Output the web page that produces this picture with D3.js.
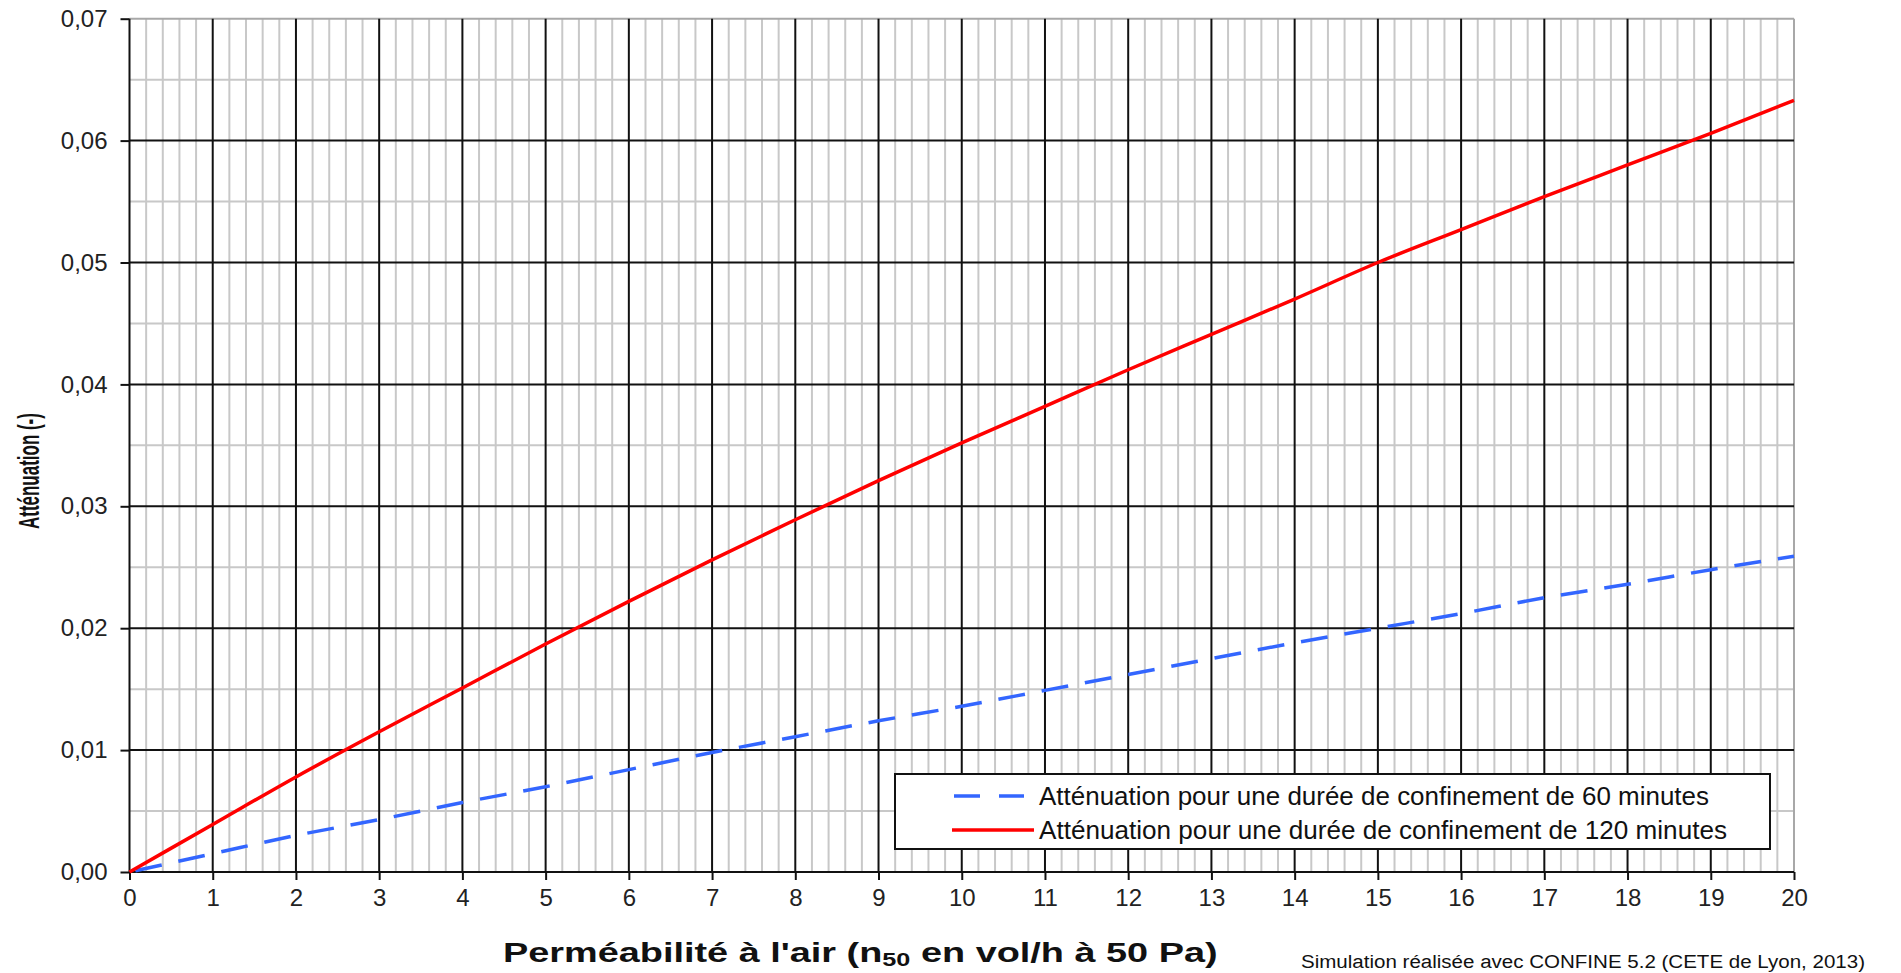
<!DOCTYPE html>
<html><head><meta charset="utf-8">
<script src="https://cdn.jsdelivr.net/npm/d3@7"></script>
<style>
html,body{margin:0;padding:0;background:#fff;}
svg{display:block;}
text{font-family:"Liberation Sans",Arial,sans-serif;}
</style></head>
<body>
<svg id="chart" width="1901" height="973"></svg>
<script>
// ---- data ----
const xValues = [0,1,2,3,4,5,6,7,8,9,10,11,12,13,14,15,16,17,18,19,20];
const att60 = [0,0.0015,0.0030,0.0043,0.0057,0.0070,0.0084,0.0098,0.0111,0.0124,0.0136,0.0149,0.0162,0.0175,0.0188,0.0200,0.0212,0.0225,0.0236,0.0248,0.0259];
const att120 = [0,0.0039,0.0078,0.0115,0.0151,0.0187,0.0222,0.0256,0.0289,0.0321,0.0352,0.0382,0.0412,0.0441,0.0470,0.0500,0.0527,0.0554,0.0580,0.0606,0.0633];
const xTicks = d3.range(0,21,1);
const yTicks = [0,0.01,0.02,0.03,0.04,0.05,0.06,0.07];
const seriesNames = ["Atténuation pour une durée de confinement de 60 minutes","Atténuation pour une durée de confinement de 120 minutes"];
const xTitle = "Perméabilité à l'air (n";
const xTitleSub = "50";
const xTitleEnd = " en vol/h à 50 Pa)";
const yTitle = "Atténuation (-)";
const footer = "Simulation réalisée avec CONFINE 5.2 (CETE de Lyon, 2013)";

const svg = d3.select("#chart");
const L = 129.5, R = 1794, T = 18.7, B = 872;
const x = d3.scaleLinear().domain([0,20]).range([L,R]);
const y = d3.scaleLinear().domain([0,0.07]).range([B,T]);
const loc = d3.formatLocale({decimal:",", thousands:" ", grouping:[3], currency:["","€"]});
const fmt = loc.format(".2f");

// minor grid
const gMinor = svg.append("g");
gMinor.selectAll("line.vx").data(d3.range(0,101).map(i=>i/5).filter(v=>Math.abs(v-Math.round(v))>1e-9))
  .join("line").attr("x1",d=>x(d)).attr("x2",d=>x(d)).attr("y1",T).attr("y2",B)
  .attr("stroke","#c8c8c8").attr("stroke-width",2);
gMinor.selectAll("line.hy").data(d3.range(0,15).map(i=>i*0.005).filter((v,i)=>i%2===1))
  .join("line").attr("class","hy").attr("x1",L).attr("x2",R).attr("y1",d=>y(d)).attr("y2",d=>y(d))
  .attr("stroke","#c8c8c8").attr("stroke-width",2);
// border top/right gray
svg.append("line").attr("x1",L).attr("x2",R).attr("y1",T).attr("y2",T).attr("stroke","#a8a8a8").attr("stroke-width",2);
svg.append("line").attr("x1",R).attr("x2",R).attr("y1",T).attr("y2",B).attr("stroke","#a8a8a8").attr("stroke-width",2);

// major grid
const gMajor = svg.append("g");
gMajor.selectAll("line.mx").data(xTicks.filter(d=>d>0 && d<20)).join("line").attr("class","mx")
  .attr("x1",d=>x(d)).attr("x2",d=>x(d)).attr("y1",T).attr("y2",B)
  .attr("stroke","#111").attr("stroke-width",2);
gMajor.selectAll("line.my").data(yTicks.filter(d=>d>0 && d<0.07)).join("line").attr("class","my")
  .attr("x1",L).attr("x2",R).attr("y1",d=>y(d)).attr("y2",d=>y(d))
  .attr("stroke","#111").attr("stroke-width",2);

// axes
const xAxis = d3.axisBottom(x).tickValues(xTicks).tickSize(8).tickPadding(9).tickFormat(d3.format("d"));
const yAxis = d3.axisLeft(y).tickValues(yTicks).tickSize(9).tickPadding(13).tickFormat(fmt);
const gx = svg.append("g").attr("transform",`translate(0,${B})`).call(xAxis);
const gy = svg.append("g").attr("transform",`translate(${L},0)`).call(yAxis);
[gx,gy].forEach(g=>{
  g.select(".domain").attr("stroke","#111").attr("stroke-width",2);
  g.selectAll(".tick line").attr("stroke","#111").attr("stroke-width",2);
  g.selectAll(".tick text").attr("fill","#222").style("font-size","24px").style("font-family","'Liberation Sans',Arial,sans-serif");
});
gx.select(".domain").attr("d",`M${L},0H${R}`);
gy.select(".domain").attr("d",`M0,${B}V${T}`);

// lines
const line = d3.line().x((d,i)=>x(xValues[i])).y(d=>y(d)).curve(d3.curveMonotoneX);
svg.append("path").datum(att60).attr("d",line).attr("fill","none")
  .attr("stroke","#3366ff").attr("stroke-width",3.5).attr("stroke-dasharray","27,17").attr("stroke-dashoffset",-6);
svg.append("path").datum(att120).attr("d",line).attr("fill","none")
  .attr("stroke","#ff0000").attr("stroke-width",3.5);

// legend
const lg = svg.append("g");
lg.append("rect").attr("x",895).attr("y",774).attr("width",875).attr("height",75)
  .attr("fill","#fff").attr("stroke","#111").attr("stroke-width",2);
lg.append("line").attr("x1",954).attr("x2",1024).attr("y1",796).attr("y2",796)
  .attr("stroke","#3366ff").attr("stroke-width",3.5).attr("stroke-dasharray","26,19");
lg.append("line").attr("x1",952).attr("x2",1034).attr("y1",830).attr("y2",830)
  .attr("stroke","#ff0000").attr("stroke-width",3.5);
const legW = [670, 688];
seriesNames.forEach((s,i)=>{
  const t = lg.append("text").attr("x",1039).attr("y",i===0?805:839)
    .attr("fill","#111").style("font-size","25px").text(s);
  t.attr("textLength",legW[i]).attr("lengthAdjust","spacingAndGlyphs");
});

// x title (bold, condensed)
const xt = svg.append("text").attr("y",962).attr("fill","#111")
  .style("font-size","27px").style("font-weight","bold");
xt.append("tspan").text(xTitle);
xt.append("tspan").attr("dy",4).style("font-size","18px").text(xTitleSub);
xt.append("tspan").attr("dy",-4).text(xTitleEnd);
const xw = xt.node().getComputedTextLength();
const xsc = 715/xw;
xt.attr("transform",`translate(503,0) scale(${xsc},1)`).attr("x",0);

// y title
const yt = svg.append("text").attr("fill","#111").style("font-size","30px").style("font-weight","bold").text(yTitle);
const yw = yt.node().getComputedTextLength();
yt.attr("transform",`translate(39,529) rotate(-90) scale(${116/yw},1)`);

// footer
svg.append("text").attr("x",1301).attr("y",968).attr("fill","#111").style("font-size","18px")
  .attr("textLength",564).attr("lengthAdjust","spacingAndGlyphs").text(footer);
</script>
</body></html>
